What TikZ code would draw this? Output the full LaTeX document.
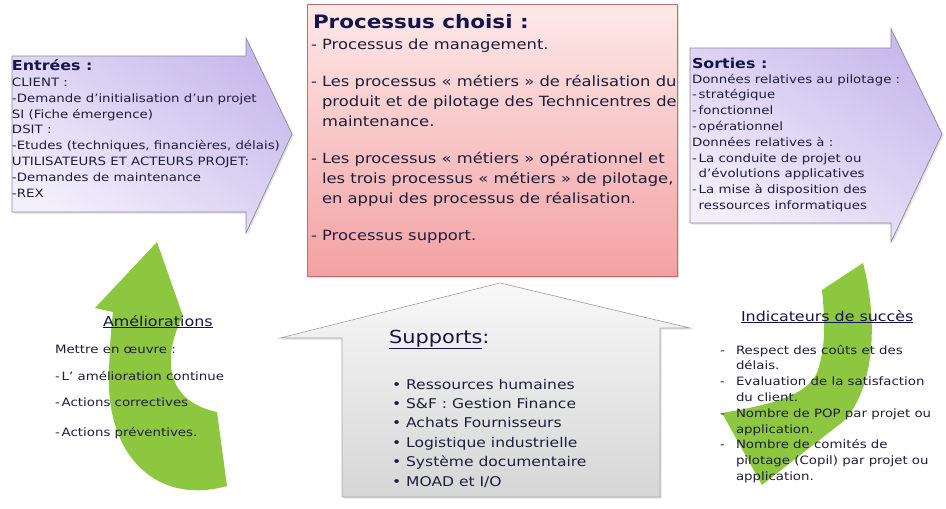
\documentclass[tikz,border=0pt]{standalone}
\usepackage{fontspec}
\setmainfont[FakeStretch=1.16]{DejaVu Sans}
\usetikzlibrary{shadows}
\definecolor{txtc}{HTML}{1E1E3C}
\definecolor{ttlc}{HTML}{15154A}
\definecolor{grn}{RGB}{141,198,63}
\definecolor{purpdark}{HTML}{C8BAEC}
\definecolor{purplight}{HTML}{F2EFFB}
\definecolor{purpline}{HTML}{8E8A9E}
\definecolor{pinktop}{HTML}{FDE9E9}
\definecolor{pinkbot}{HTML}{F3A1A3}
\definecolor{pinkline}{HTML}{C46A6C}
\definecolor{graytop}{HTML}{F8F8F8}
\definecolor{graybot}{HTML}{D6D6D6}
\definecolor{grayline}{HTML}{A8A8A8}
\newcommand{\mylines}[1]{\begin{tabular}[t]{@{}l@{}}#1\end{tabular}}
\newcommand{\myhy}{\makebox[16pt][l]{-}}
\newcommand{\myind}{\hspace*{16pt}}
\begin{document}
\begin{tikzpicture}[x=1pt,y=-1pt,
  every node/.style={inner sep=0pt, outer sep=0pt, anchor=base west, text=txtc},
  bodytxt/.style={font=\fontsize{11.5}{15.8}\selectfont},
  proctxt/.style={font=\fontsize{14.1}{20}\selectfont},
  suptxt/.style={font=\fontsize{13.4}{19.4}\selectfont},
  headbold/.style={font=\fontsize{13.7}{16}\selectfont\bfseries, text=ttlc},
  headul/.style={font=\fontsize{13.7}{16}\selectfont, text=ttlc},
  purparrow/.style={draw=purpline, line width=0.7pt, top color=purpdark, bottom color=purplight, shading angle=-35,
    drop shadow={opacity=0.25, shadow xshift=1.5pt, shadow yshift=-1.5pt}},
  procbox/.style={draw=pinkline, line width=0.7pt, top color=pinktop, bottom color=pinkbot,
    drop shadow={opacity=0.25, shadow xshift=1.5pt, shadow yshift=-1.5pt}},
  housebox/.style={draw=grayline, line width=0.7pt, top color=graytop, bottom color=graybot,
    drop shadow={opacity=0.25, shadow xshift=1.5pt, shadow yshift=-1.5pt}},
  greenarrow/.style={fill=grn}
]
\useasboundingbox (0,0) rectangle (946,509);
\fill[white] (0,0) rectangle (946,509);

% green curved arrows
\path[greenarrow] (157,242) -- (183,316)
  .. controls (165,350) and (160,400) .. (217,412)
  -- (227,486)
  .. controls (160,505) and (105,460) .. (109,370)
  .. controls (110,340) and (112,320) .. (113,312)
  -- (95,308) -- cycle;
\path[greenarrow] (822,290) -- (863,263)
  .. controls (878,320) and (875,385) .. (845,420)
  -- (762,485) -- (722,413)
  .. controls (770,405) and (810,395) .. (818,370)
  .. controls (826,345) and (825,320) .. (822,290) -- cycle;

% input / output arrows
\path[purparrow] (12,56) -- (246,56) -- (246,38) -- (292,134) -- (246,233) -- (246,212) -- (12,212) -- cycle;
\path[purparrow] (690,48) -- (891,48) -- (891,29) -- (942,134) -- (891,242) -- (891,223) -- (690,223) -- cycle;

% process box
\path[procbox] (307,4) rectangle (677,276);

% supports house
\path[housebox] (500,283) -- (690,328) -- (660,328) -- (660,497) -- (342,497) -- (342,338) -- (280,338) -- cycle;

% Entrées
\node[headbold] (entt) at (12,70) {Entrées :};
\node[bodytxt] (entb) at (12,86.5) {\mylines{CLIENT :\\
-Demande d’initialisation d’un projet\\
SI (Fiche émergence)\\
DSIT :\\
-Etudes (techniques, financières, délais)\\
UTILISATEURS ET ACTEURS PROJET:\\
-Demandes de maintenance\\
-REX}};

% Processus
\node[font=\fontsize{18.5}{22}\selectfont\bfseries, text=ttlc] (proct) at (313,28) {Processus choisi :};
\node[proctxt] (procp1) at (311,49) {- Processus de management.};
\node[proctxt] (procp2) at (311,86) {\mylines{- Les processus « métiers » de réalisation du\\
\hphantom{- }produit et de pilotage des Technicentres de\\
\hphantom{- }maintenance.}};
\node[proctxt] (procp3) at (311,163) {\mylines{- Les processus « métiers » opérationnel et\\
\hphantom{- }les trois processus « métiers » de pilotage,\\
\hphantom{- }en appui des processus de réalisation.}};
\node[proctxt] (procp4) at (311,240) {- Processus support.};

% Sorties
\node[headbold] (sortt) at (692,68) {Sorties :};
\node[bodytxt] (sortb) at (692,83) {\mylines{Données relatives au pilotage :\\
-\,stratégique\\
-\,fonctionnel\\
-\,opérationnel\\
Données relatives à :\\
-\,La conduite de projet ou\\
\hphantom{-\,}d’évolutions applicatives\\
-\,La mise à disposition des\\
\hphantom{-\,}ressources informatiques}};

% Améliorations
\node[headul] (amelt) at (103,326) {\underline{Améliorations}};
\node[bodytxt] (amel1) at (55,353) {Mettre en œuvre :};
\node[bodytxt] (amel2) at (55,380) {-\,L’ amélioration continue};
\node[bodytxt] (amel3) at (55,406) {-\,Actions correctives};
\node[bodytxt] (amel4) at (55,436) {-\,Actions préventives.};

% Supports
\node[font=\fontsize{18}{22}\selectfont, text=ttlc] (supt) at (389,343) {\underline{Supports}:};
\node[suptxt] (supb) at (392,389) {\mylines{• Ressources humaines\\
• S\&F : Gestion Finance\\
• Achats Fournisseurs\\
• Logistique industrielle\\
• Système documentaire\\
• MOAD et I/O}};

% Indicateurs
\node[headul] (indt) at (741,321) {\underline{Indicateurs de succès}};
\node[bodytxt] (indb) at (720,354) {\mylines{\myhy Respect des coûts et des\\
\myind délais.\\
\myhy Evaluation de la satisfaction\\
\myind du client.\\
\myhy Nombre de POP par projet ou\\
\myind application.\\
\myhy Nombre de comités de\\
\myind pilotage (Copil) par projet ou\\
\myind application.}};
\end{tikzpicture}
\end{document}
